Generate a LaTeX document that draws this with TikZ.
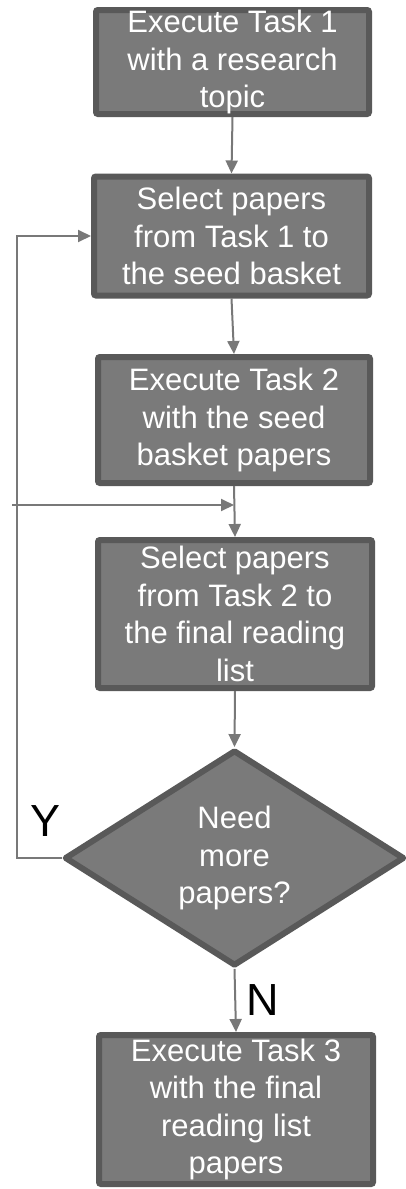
\documentclass[tikz,border=0pt]{standalone}
\usepackage{fontspec}
\setmainfont{Liberation Sans}
\usetikzlibrary{shapes.geometric,arrows.meta}
\definecolor{boxfill}{HTML}{7A7A7A}
\definecolor{boxline}{HTML}{595959}
\definecolor{arrowcol}{HTML}{787878}
\tikzset{
  stepbox/.style={rectangle, rounded corners=2pt, fill=boxfill, draw=boxline, line width=6pt,
    inner sep=0pt, text=white, align=center,
    font=\fontsize{31pt}{37.5pt}\selectfont},
  decision/.style={diamond, fill=boxfill, draw=boxline, line width=6pt, line join=round,
    inner sep=0pt, text=white, align=center,
    font=\fontsize{31pt}{37.5pt}\selectfont},
  flow/.style={draw=arrowcol, line width=2pt, -{Triangle[length=13pt,width=12pt]}},
  yn/.style={font=\fontsize{45pt}{50pt}\selectfont, text=black, inner sep=0pt}
}
\begin{document}
\begin{tikzpicture}[x=1pt,y=-1pt]
\useasboundingbox (0,0) rectangle (405,1189);
\node[stepbox, minimum width=273pt, minimum height=104pt] (b1) at (232.5,62)
  {Execute Task 1\\with a research\\topic};
\node[stepbox, minimum width=275pt, minimum height=119pt] (b2) at (231.5,236)
  {Select papers\\from Task 1 to\\the seed basket};
\node[stepbox, minimum width=272pt, minimum height=126pt] (b3) at (234,420)
  {Execute Task 2\\with the seed\\basket papers};
\node[stepbox, minimum width=274pt, minimum height=148pt] (b4) at (235,614)
  {Select papers\\from Task 2 to\\the final reading\\list};
\node[decision, minimum width=340pt, minimum height=213pt] (d) at (234.5,858)
  {Need\\more\\papers?};
\node[stepbox, minimum width=274pt, minimum height=149pt] (b5) at (236,1109.5)
  {Execute Task 3\\with the final\\reading list\\papers};
\coordinate (lp) at (17,0);
\coordinate (entry) at (12,505);
\node[yn] (ylab) at (46,821) {Y};
\node[yn] (nlab) at (263,1000) {N};
\draw[flow] (b1.south) -- (b2.north);
\draw[flow] (b2.south) -- (b3.north);
\draw[flow] (b3.south) -- (b4.north);
\draw[flow] (entry) -- (entry -| b3.south);
\draw[flow] (b4.south) -- (d.north);
\draw[flow] (d.south) -- (b5.north);
\draw[flow] (d.west) -- (d.west -| lp) -- (b2.west -| lp) -- (b2.west);
\end{tikzpicture}
\end{document}
